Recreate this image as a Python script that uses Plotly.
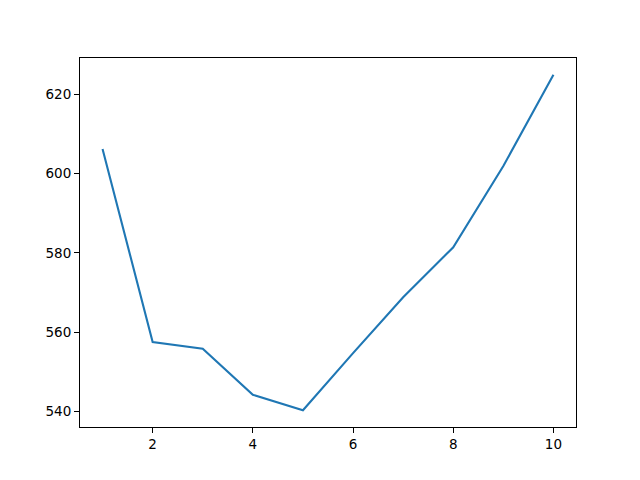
import plotly.graph_objects as go

# Values
x_values = [1, 2, 3, 4, 5, 6, 7, 8, 9, 10]
y_values = [606.2, 557.5, 555.8, 544.2, 540.3, 554.7, 568.8, 581.4, 601.9, 624.9]

x_ticks = [2, 4, 6, 8, 10]
y_ticks = [540, 560, 580, 600, 620]


def make_figure() -> go.Figure:
    fig = go.Figure(
        go.Scatter(
            x=x_values,
            y=y_values,
            mode="lines",
            line=dict(color="#1f77b4", width=2.1),
        )
    )

    axis_style = dict(
        showgrid=False,
        zeroline=False,
        showline=True,
        linecolor="black",
        linewidth=1,
        mirror=True,
        ticks="outside",
        ticklen=5,
        tickwidth=1,
        tickcolor="black",
        tickfont=dict(family="DejaVu Sans", size=13.5, color="black"),
    )

    span_y = max(y_values) - min(y_values)
    fig.update_xaxes(
        range=[0.55, 10.45],
        tickvals=x_ticks,
        **axis_style,
    )
    fig.update_yaxes(
        range=[min(y_values) - 0.05 * span_y, max(y_values) + 0.05 * span_y],
        tickvals=y_ticks,
        **axis_style,
    )

    # the page body adds 8px, so the margins are shifted to compensate
    fig.update_layout(
        width=640,
        height=480,
        margin=dict(l=72, r=72, t=50, b=61, pad=0),
        paper_bgcolor="white",
        plot_bgcolor="white",
        showlegend=False,
    )
    return fig


def main():
    fig = make_figure()
    fig.write_html("out.html")


if __name__ == "__main__":
    main()
